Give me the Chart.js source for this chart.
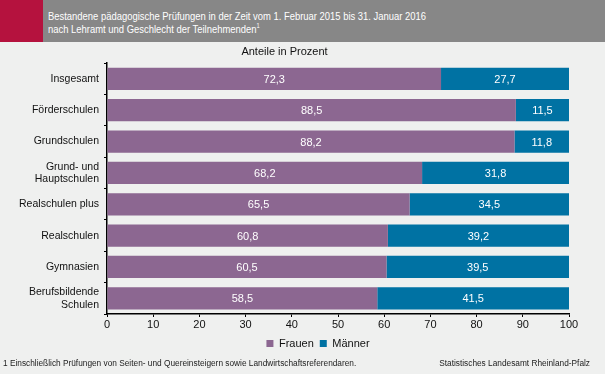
<!DOCTYPE html>
<html>
<head>
<meta charset="utf-8">
<script src="https://cdn.jsdelivr.net/npm/chart.js@4"></script>
<style>
  body { margin:0; background:#eff0ef; font-family:"Liberation Sans", Arial, sans-serif; }
  #wrap { position:relative; width:605px; height:374px; overflow:hidden; }
  #head { position:absolute; left:0; top:0; width:605px; height:42px; background:#878787; }
  #red { position:absolute; left:0; top:0; width:43px; height:42px; background:#b5123e; }
  #title { position:absolute; left:48px; top:10px; color:#fff; font-size:11.5px; line-height:13px; white-space:nowrap; transform:scaleX(0.82); transform-origin:0 0; }
  #title sup { font-size:7px; line-height:0; }
  #note { position:absolute; left:3px; top:358px; font-size:8.3px; color:#222; }
  #src { position:absolute; right:15px; top:358px; font-size:8.3px; color:#222; }
  canvas { position:absolute; left:0; top:0; }
</style>
</head>
<body>
<div id="wrap">
  <div id="head"></div><div id="red"></div>
  <div id="title">Bestandene pädagogische Prüfungen in der Zeit vom 1. Februar 2015 bis 31. Januar 2016<br>nach Lehramt und Geschlecht der Teilnehmenden<sup>1</sup></div>
  <canvas id="c" width="605" height="374"></canvas>
  <div id="note">1 Einschließlich Prüfungen von Seiten- und Quereinsteigern sowie Landwirtschaftsreferendaren.</div>
  <div id="src">Statistisches Landesamt Rheinland-Pfalz</div>
</div>
<script>
var categories = ['Insgesamt', 'Förderschulen', 'Grundschulen', ['Grund- und', 'Hauptschulen'], 'Realschulen plus', 'Realschulen', 'Gymnasien', ['Berufsbildende', 'Schulen']];
var frauen = [72.3, 88.5, 88.2, 68.2, 65.5, 60.8, 60.5, 58.5];
var maenner = [27.7, 11.5, 11.8, 31.8, 34.5, 39.2, 39.5, 41.5];
var xTicks = [0, 10, 20, 30, 40, 50, 60, 70, 80, 90, 100];

var font = { family: '"Liberation Sans", Arial, sans-serif', size: 11 };
var yFont = { family: '"Liberation Sans", Arial, sans-serif', size: 10.5 };

// white value labels in the bar segments
var valueLabels = {
  id: 'valueLabels',
  afterLayout: function(chart) {
    // legend sits a bit right of the canvas centre
    var lg = chart.legend;
    lg.left = 2 * 318 - lg.right;
    lg.width = lg.right - lg.left;
  },
  afterDatasetsDraw: function(chart) {
    var ctx = chart.ctx;
    ctx.save();
    ctx.fillStyle = '#fff';
    ctx.font = '11px "Liberation Sans", Arial, sans-serif';
    ctx.textAlign = 'center';
    ctx.textBaseline = 'middle';
    chart.data.datasets.forEach(function(ds, i) {
      chart.getDatasetMeta(i).data.forEach(function(bar, j) {
        var x = (bar.x + bar.base) / 2;
        ctx.fillText(ds.data[j].toFixed(1).replace('.', ','), x, bar.y + 1);
      });
    });
    ctx.restore();
  }
};

new Chart(document.getElementById('c'), {
  type: 'bar',
  data: {
    labels: categories,
    datasets: [
      { label: 'Frauen', data: frauen, backgroundColor: '#8c6791', barPercentage: 0.71, categoryPercentage: 1 },
      { label: 'Männer', data: maenner, backgroundColor: '#0072a3', barPercentage: 0.71, categoryPercentage: 1 }
    ]
  },
  options: {
    indexAxis: 'y',
    responsive: false,
    animation: false,
    layout: { padding: { top: 42, right: 36, bottom: 15, left: 0 } },
    plugins: {
      title: { display: true, text: 'Anteile in Prozent', color: '#111', font: { family: font.family, size: 11, weight: 'normal' }, padding: { top: 3, bottom: 5 } },
      legend: {
        position: 'bottom',
        labels: { boxWidth: 7, boxHeight: 7, color: '#111', font: font, padding: 6 }
      },
      tooltip: { enabled: false }
    },
    scales: {
      x: {
        stacked: true, min: 0, max: 100,
        afterBuildTicks: function(s) { s.ticks = xTicks.map(function(v) { return { value: v }; }); },
        ticks: { color: '#111', font: font, padding: 1 },
        grid: { drawOnChartArea: false, color: '#000', tickLength: 3 },
        border: { color: '#000', width: 1.5 },
        afterFit: function(s) { s.height = 18; }
      },
      y: {
        stacked: true,
        ticks: { color: '#111', font: yFont, padding: 5, autoSkip: false },
        grid: { drawOnChartArea: false, color: '#000', tickLength: 3, offset: true },
        border: { color: '#000', width: 1.5 },
        afterFit: function(s) { s.width = 107; }
      }
    }
  },
  plugins: [valueLabels]
});
</script>
</body>
</html>
